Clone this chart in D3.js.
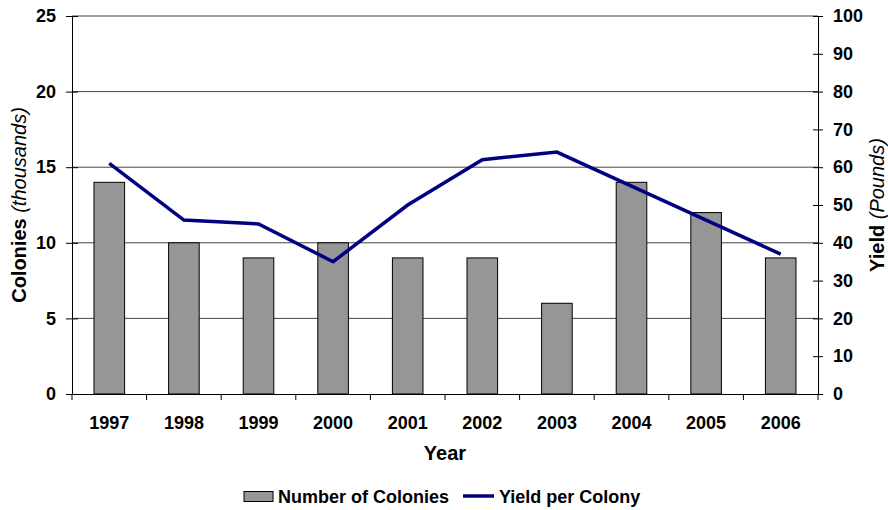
<!DOCTYPE html>
<html>
<head>
<meta charset="utf-8">
<script src="https://d3js.org/d3.v7.min.js"></script>
<style>
  body { margin: 0; background: #fff; font-family: 'Liberation Sans', Arial, sans-serif; }
  text { font-family: 'Liberation Sans', Arial, sans-serif; font-weight: bold; fill: #000; }
</style>
</head>
<body>
<div id="chart"></div>
<script>
var years = ["1997", "1998", "1999", "2000", "2001", "2002", "2003", "2004", "2005", "2006"];
var colonies = [14, 10, 9, 10, 9, 9, 6, 14, 12, 9];
var yieldPerColony = [61, 46, 45, 35, 50, 62, 64, 55, 46, 37];
var leftTicks = [0, 5, 10, 15, 20, 25];
var rightTicks = [0, 10, 20, 30, 40, 50, 60, 70, 80, 90, 100];

var W = 888, H = 510;
var margin = { top: 16, right: 70, bottom: 116, left: 72 },
    width = W - margin.left - margin.right,
    height = H - margin.top - margin.bottom;

var svg = d3.select("#chart").append("svg")
    .attr("width", W).attr("height", H);
var g = svg.append("g")
    .attr("transform", "translate(" + margin.left + "," + margin.top + ")");

var x = d3.scaleBand().domain(years).range([0, width]).paddingInner(0.59).paddingOuter(0.295);
var xc = d3.scaleBand().domain(years).range([0, width]);
var yL = d3.scaleLinear().domain([0, 25]).range([height, 0]);
var yR = d3.scaleLinear().domain([0, 100]).range([height, 0]);

// gridlines
g.selectAll(".grid").data(leftTicks.slice(1)).enter().append("line")
    .attr("x1", 0).attr("x2", width)
    .attr("y1", function (d) { return yL(d); })
    .attr("y2", function (d) { return yL(d); })
    .attr("stroke", "#444").attr("stroke-width", 1);

// bars
g.selectAll(".bar").data(colonies).enter().append("rect")
    .attr("x", function (d, i) { return x(years[i]); })
    .attr("y", function (d) { return yL(d); })
    .attr("width", x.bandwidth())
    .attr("height", function (d) { return height - yL(d); })
    .attr("fill", "#969696")
    .attr("stroke", "#000").attr("stroke-width", 1);

// line
var line = d3.line()
    .x(function (d, i) { return xc(years[i]) + xc.bandwidth() / 2; })
    .y(function (d) { return yR(d); });
g.append("path").datum(yieldPerColony)
    .attr("d", line)
    .attr("fill", "none")
    .attr("stroke", "#000080").attr("stroke-width", 3.5);

// left axis
var la = g.append("g").call(d3.axisLeft(yL).tickValues(leftTicks).tickSize(6).tickPadding(4));
la.select(".domain").attr("stroke", "#000");
la.selectAll(".tick line").attr("x2", 6).attr("x1", -6).attr("stroke", "#000");
la.selectAll(".tick text").style("font-size", "18px").attr("x", -16);

// right axis
var ra = g.append("g").attr("transform", "translate(" + width + ",0)")
    .call(d3.axisRight(yR).tickValues(rightTicks).tickSize(5).tickPadding(4));
ra.select(".domain").attr("stroke", "#000");
ra.selectAll(".tick line").attr("x1", -5).attr("x2", 5).attr("stroke", "#000");
ra.selectAll(".tick text").style("font-size", "18px").attr("x", 15);

// bottom axis
var ba = g.append("g").attr("transform", "translate(0," + height + ")")
    .call(d3.axisBottom(xc).tickSize(0).tickPadding(22));
ba.select(".domain").attr("stroke", "#000");
ba.selectAll(".tick text").style("font-size", "18px");
g.selectAll(".xtick").data(d3.range(years.length + 1)).enter().append("line")
    .attr("x1", function (d) { return d * xc.step(); })
    .attr("x2", function (d) { return d * xc.step(); })
    .attr("y1", height).attr("y2", height + 6)
    .attr("stroke", "#000");

// axis titles
svg.append("text")
    .attr("transform", "translate(26," + (margin.top + height / 2) + ") rotate(-90)")
    .attr("text-anchor", "middle")
    .style("font-size", "20px")
    .html('Colonies <tspan style="font-weight:normal;font-style:italic">(thousands)</tspan>');

svg.append("text")
    .attr("transform", "translate(884," + (margin.top + height / 2) + ") rotate(-90)")
    .attr("text-anchor", "middle")
    .style("font-size", "20px")
    .html('Yield <tspan style="font-weight:normal;font-style:italic">(Pounds)</tspan>');

svg.append("text")
    .attr("x", margin.left + width / 2).attr("y", 460)
    .attr("text-anchor", "middle")
    .style("font-size", "20px")
    .text("Year");

// legend
var lg = svg.append("g");
lg.append("rect").attr("x", 244).attr("y", 491.5).attr("width", 29).attr("height", 10)
    .attr("fill", "#969696").attr("stroke", "#000");
lg.append("text").attr("x", 278).attr("y", 502.5).style("font-size", "18px").text("Number of Colonies");
lg.append("line").attr("x1", 463).attr("x2", 494).attr("y1", 496).attr("y2", 496)
    .attr("stroke", "#000080").attr("stroke-width", 3.5);
lg.append("text").attr("x", 499).attr("y", 502.5).style("font-size", "18px").text("Yield per Colony");
</script>
</body>
</html>
